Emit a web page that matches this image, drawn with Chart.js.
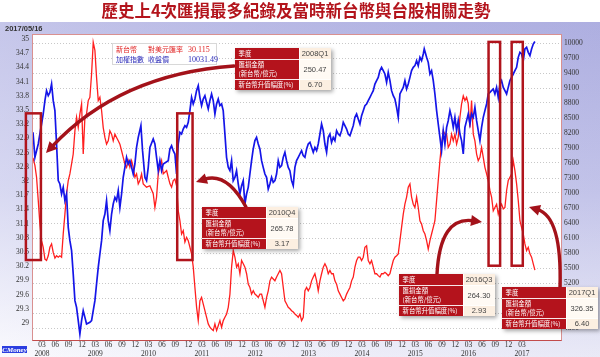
<!DOCTYPE html>
<html><head><meta charset="utf-8">
<script src="https://cdn.jsdelivr.net/npm/chart.js@4"></script>
<style>html,body{margin:0;padding:0;background:#fff}#wrap{width:600px;height:357px;position:relative}</style>
</head><body><div id="wrap"><canvas id="c"></canvas></div>
<script>
// Month offsets from 2008-01 (fractional)
const twdMonth = [0,0.43,0.8,1.18,1.55,1.93,2.3,2.68,3.05,3.43,3.8,4.18,4.55,4.93,5.3,5.68,6.05,6.43,6.8,7.18,7.55,7.93,8.3,8.68,9.05,9.43,9.8,10.18,10.55,10.93,11.3,11.68,12.05,12.43,12.8,13.18,13.55,13.93,14.3,14.68,15.05,15.43,15.8,16.18,16.55,16.93,17.3,17.68,18.05,18.43,18.8,19.18,19.55,19.93,20.3,20.68,21.05,21.43,21.8,22.18,22.55,22.93,23.3,23.68,24.05,24.43,24.8,25.55,26.3,27.05,27.43,27.8,28.18,28.55,28.93,29.3,
30.06,30.43,30.81,31.18,31.56,31.93,32.31,32.68,33.06,33.43,33.81,34.18,34.56,34.93,35.31,35.68,36.06,36.43,36.81,37.18,37.56,37.93,38.31,38.68,39.06,39.43,39.81,40.18,40.56,40.93,41.31,41.68,42.06,42.43,42.81,43.18,43.56,43.93,44.31,44.68,45.06,45.43,45.81,46.18,46.56,46.93,47.31,47.68,48.06,48.43,48.81,49.18,49.56,49.93,50.31,50.68,51.06,51.43,51.81,52.18,52.56,52.93,53.31,53.68,54.06,54.43,54.81,55.18,55.56,55.93,56.31,56.68,57.06,57.43,57.81,58.18,58.56,58.93,59.31,59.68,60.06,60.43,60.81,61.18,
61.56,61.93,62.31,62.68,63.06,63.43,63.81,64.18,64.56,64.93,65.31,65.68,66.06,66.43,66.81,67.18,67.56,67.93,68.31,68.68,69.06,69.43,69.81,70.18,70.56,70.93,71.31,71.68,72.06,72.43,72.81,73.18,73.56,73.93,74.31,74.68,75.06,75.43,75.81,76.18,76.56,76.93,77.31,77.68,78.06,78.43,78.81,79.18,79.56,79.93,80.31,80.68,81.06,81.43,81.81,82.18,82.56,82.93,83.31,83.68,84.06,84.43,84.81,85.18,85.56,85.93,86.31,86.68,87.06,87.43,87.81,88.18,88.56,88.93,89.31,
89.68,90.06,90.43,90.81,91.18,91.56,91.93,92.31,92.68,93.06,93.43,93.81,94.18,94.56,94.93,95.31,95.68,96.06,96.43,96.81,97.18,97.56,97.93,98.31,98.68,99.06,99.43,99.81,100.18,100.56,100.93,101.31,101.68,102.06,102.43,102.81,103.18,103.56,103.93,104.31,104.68,105.06,105.43,105.81,106.18,106.56,106.93,107.31,107.68,108.06,108.43,108.81,109.18,109.56,109.93,110.31,110.68,111.06,111.43,111.81,112.18,112.56,112.93];
const twdRate = [32.49,32.33,32.08,31.59,31.09,30.74,30.60,30.35,30.32,30.42,30.60,30.67,30.49,30.37,30.42,30.39,30.42,30.39,30.88,31.30,31.73,32.01,32.15,32.36,32.57,33.06,33.35,33.13,33.42,33.63,32.57,33.35,33.42,33.70,33.77,34.26,34.93,34.76,34.19,33.70,33.77,33.49,33.13,32.92,32.78,32.85,33.06,32.99,32.85,32.99,32.92,32.85,32.78,32.64,32.50,32.36,32.29,32.43,32.29,32.43,32.29,32.08,32.15,31.94,32.01,32.15,31.94,31.87,31.90,31.73,31.44,31.66,32.15,32.29,32.43,32.15,
32.22,32.08,31.94,31.87,32.01,32.04,31.90,31.37,31.16,30.88,30.95,30.71,30.81,30.74,30.60,30.46,30.18,29.75,29.33,29.05,29.47,29.54,29.40,29.26,29.12,28.98,28.91,28.87,28.84,28.98,28.84,28.94,29.05,28.91,29.05,29.12,29.19,29.33,29.61,30.18,30.53,30.39,30.18,30.25,30.04,30.32,30.25,30.18,30.04,29.82,29.75,29.61,29.68,29.61,29.58,29.54,29.61,29.61,29.47,29.33,29.54,29.68,29.89,29.97,29.93,29.89,29.97,30.04,30.11,30.04,29.75,29.47,29.40,29.33,29.30,29.26,29.23,29.19,29.16,29.12,29.19,29.05,29.12,29.68,
29.75,29.68,29.75,29.89,29.97,30.04,29.89,29.68,29.89,30.04,30.18,30.25,30.18,30.04,30.11,30.04,30.04,29.89,29.82,29.68,29.61,29.54,29.47,29.51,29.61,29.68,29.75,29.89,29.97,30.18,30.32,30.39,30.39,30.32,30.39,30.60,30.63,30.32,30.25,30.32,30.18,30.04,30.04,30.00,29.97,30.04,30.04,30.07,30.04,30.00,30.04,30.18,30.32,30.39,30.42,30.46,30.74,31.02,31.30,31.51,31.66,31.87,31.94,31.66,31.51,31.44,31.66,31.44,31.16,31.09,30.95,30.88,30.74,30.56,30.74,
30.88,31.02,31.16,31.59,32.01,32.43,32.78,33.06,32.99,32.99,32.71,32.78,32.99,32.85,32.99,32.78,32.92,33.35,33.63,33.80,33.70,33.77,33.63,33.13,33.70,32.99,32.85,32.57,32.43,32.50,32.71,32.50,32.29,32.15,32.01,31.80,31.66,31.37,31.44,31.51,31.30,31.44,31.51,31.41,31.44,31.80,32.01,32.08,32.15,32.43,32.22,31.94,31.59,31.16,31.02,30.88,30.67,30.53,30.60,30.46,30.39,30.25,30.115];

const taiexMonth = [0,0.43,1.18,1.55,1.93,2.3,2.68,3.05,3.43,3.8,4.18,4.55,4.93,5.3,5.68,6.05,6.43,6.8,7.18,7.55,7.93,8.3,8.68,9.05,9.43,9.8,10.18,10.55,10.93,11.3,11.68,12.05,12.8,13.18,13.55,13.93,14.3,14.68,15.05,15.43,15.8,16.18,16.55,16.93,17.3,17.68,18.05,18.43,18.8,19.18,19.55,19.93,20.3,20.68,21.05,21.43,21.8,22.18,22.55,22.93,23.3,23.68,24.28,24.65,25.18,25.55,25.93,26.3,27.05,27.43,27.8,28.18,28.55,28.93,29.3,
30.43,30.8,31.18,31.55,31.93,32.3,32.68,33.05,33.43,33.8,34.18,34.55,34.93,35.3,35.68,36.05,36.43,36.8,37.18,37.55,37.93,38.3,38.68,39.05,39.43,39.8,40.18,40.55,40.93,41.3,41.68,42.05,42.43,42.8,43.18,43.55,43.93,44.3,44.68,45.05,45.43,45.8,46.18,46.55,46.93,47.3,47.68,48.05,48.43,48.8,49.18,49.55,49.93,50.3,50.68,51.05,51.43,51.8,52.18,52.55,52.93,53.3,53.68,54.05,54.43,54.8,55.18,55.55,55.93,56.3,56.68,57.05,57.43,57.8,58.18,58.55,58.93,59.3,59.68,60.05,60.43,60.8,61.18,
61.56,61.93,62.31,62.68,63.06,63.43,63.81,64.18,64.56,64.93,65.31,65.68,66.06,66.43,66.81,67.18,67.56,67.93,68.31,68.68,69.06,69.43,69.81,70.18,70.56,70.93,71.31,71.68,72.06,72.43,72.81,73.18,73.56,73.93,74.31,74.68,75.06,75.43,75.81,76.18,76.56,76.93,77.31,77.68,78.06,78.43,78.81,79.18,79.56,79.93,80.31,80.68,81.06,81.43,81.81,82.18,82.56,82.93,83.31,83.68,84.06,84.43,84.81,85.18,85.56,85.93,86.31,86.68,87.06,87.43,87.81,88.03,88.56,88.93,89.31,
89.68,90.06,90.43,90.81,91.18,91.56,91.93,92.31,92.68,93.06,93.43,93.81,94.18,94.56,94.93,95.31,95.68,96.06,96.43,96.81,97.18,97.56,97.93,98.31,98.68,99.06,99.43,99.81,100.18,100.56,100.93,101.31,101.68,102.06,102.43,102.81,103.18,103.56,103.93,104.31,104.68,105.06,105.43,105.81,106.18,106.56,106.93,107.31,107.68,108.06,108.43,108.81,109.18,109.56,109.93,110.31,110.68,111.06,111.43,111.81,112.18,112.56,112.93];
const taiexClose = [8213,7713,7980,8180,8380,8580,8847,9047,8947,9013,9180,8847,8647,7980,7247,7180,6980,7113,6847,6980,6313,6047,5847,5380,4847,4713,4447,4180,4447,4647,4513,4380,4413,4447,4647,4847,5180,5513,5780,6047,6447,6580,6847,6447,6247,6580,6780,6913,6847,7047,6713,6980,7313,7513,7713,7580,7647,7513,7380,7580,7913,8113,8347,7847,7313,7247,7513,7913,8080,7980,7713,7447,7647,7447,7580,
7647,7880,7947,7847,7780,7380,7980,8213,8180,8280,8347,8313,8413,8647,8913,8780,8880,9047,9147,8913,8747,8880,8947,8813,8680,8847,8980,8847,8580,8780,8880,8747,8780,8647,8180,7713,7513,7447,7647,7247,7313,7447,7180,6980,7147,7247,6780,6980,7113,7380,7647,7880,8047,8113,7980,7880,7647,7513,7380,7313,7080,7180,7313,7213,7247,7380,7647,7513,7547,7713,7813,7647,7513,7447,7247,7147,7513,7647,7713,7780,7847,7747,7713,
7880,7980,8013,7913,7813,7913,7847,7980,8180,8380,8247,7980,7813,8113,8180,8013,8113,8047,8247,8180,8147,8247,8413,8347,8280,8180,8147,8247,8347,8513,8580,8480,8380,8547,8647,8747,8780,8847,8913,8980,9047,9180,9247,9313,9447,9513,9447,9380,9213,9413,9247,9047,8947,8880,8713,8513,8980,9047,9113,9247,9080,9180,9313,9447,9513,9547,9647,9547,9713,9647,9780,9880,9713,9613,9380,
9447,9247,8980,8647,8380,8113,7847,8247,7980,8313,8447,8647,8513,8313,8513,8247,8447,8180,8047,7780,8313,8447,8580,8380,8580,8513,8713,8447,8247,8047,8313,8513,8647,8780,8980,9013,9047,9080,8980,9113,8913,9180,9247,9113,9047,8980,9113,9247,9313,9380,9447,9513,9713,9813,9780,9647,9880,9913,9813,9747,9880,9980,10031.49];

const leftTicks = [29,29.3,29.6,29.9,30.2,30.5,30.8,31.1,31.4,31.7,32,32.3,32.6,32.9,33.2,33.5,33.8,34.1,34.4,34.7,35];
const rightTicks = [4300,4600,4900,5200,5500,5800,6100,6400,6700,7000,7300,7600,7900,8200,8500,8800,9100,9400,9700,10000];
const quarterLabels = ['03','06','09','12'];
const years = [2008,2009,2010,2011,2012,2013,2014,2015,2016,2017];

// Highlighted quarters (month offsets, left-axis values)
const hlStart = [-1.6, 32.45, 102.5, 107.7];
const hlEnd = [1.78, 35.9, 105.1, 110.2];
const hlTop = [33.43, 33.43, 34.94, 34.94];
const hlBottom = [30.33, 30.33, 30.21, 30.21];

// Callout table contents
const quarters = ['2008Q1','2010Q4','2016Q3','2017Q1'];
const fxLoss = ['250.47','265.78','264.30','326.35'];
const twdRise = ['6.70','3.17','2.93','6.40'];

const xTicks = [];
years.forEach((y, yi) => quarterLabels.forEach((q, qi) => {
  const m = yi * 12 + qi * 3 + 2;
  if (m <= 110) xTicks.push(m);
}));

const CJK = '"Noto Sans CJK TC", "Noto Sans CJK SC", sans-serif';
const SERIF = '"Liberation Serif", "DejaVu Serif", serif';
const SANS = '"Liberation Sans", Arial, sans-serif';

// layout of annotations (pixels)
const calloutPos = [[235,48],[202,207],[399,274],[502,287]];
const arrows = [
  [[234,66],[120,74],[46,153]],
  [[246,207],[227,172],[196,182]],
  [[437,274],[440,216],[482,222]],
  [[560,287],[562,217],[529,207]]
];

function drawArrow(ctx, a) {
  const [s, c, t] = a;
  const dx = t[0]-c[0], dy = t[1]-c[1], L = Math.hypot(dx,dy);
  const ux = dx/L, uy = dy/L;
  const hl = 11, hw = 5.5;
  const bx = t[0]-ux*hl, by = t[1]-uy*hl;
  ctx.save();
  ctx.strokeStyle = '#a3121a'; ctx.fillStyle = '#a3121a';
  ctx.lineWidth = 3.4; ctx.lineCap = 'round';
  ctx.beginPath(); ctx.moveTo(s[0], s[1]); ctx.quadraticCurveTo(c[0], c[1], bx+ux*2, by+uy*2); ctx.stroke();
  ctx.beginPath(); ctx.moveTo(t[0], t[1]);
  ctx.lineTo(bx - uy*hw, by + ux*hw); ctx.lineTo(bx + uy*hw, by - ux*hw); ctx.closePath(); ctx.fill();
  ctx.restore();
}

function drawCallout(ctx, x, y, i) {
  const w = 96, h = 42, lw = 64, r1 = 11, r2 = 20;
  ctx.save();
  ctx.shadowColor = 'rgba(0,0,0,0.35)'; ctx.shadowBlur = 4; ctx.shadowOffsetX = 2; ctx.shadowOffsetY = 2;
  ctx.fillStyle = '#fff'; ctx.fillRect(x, y, w, h);
  ctx.restore();
  ctx.save();
  ctx.fillStyle = '#b4131c'; ctx.fillRect(x, y, lw, h);
  ctx.fillStyle = '#fcefe1'; ctx.fillRect(x+lw, y, w-lw, r1);
  ctx.fillStyle = '#fffaf4'; ctx.fillRect(x+lw, y+r1, w-lw, r2);
  ctx.fillStyle = '#fcefe1'; ctx.fillRect(x+lw, y+r1+r2, w-lw, h-r1-r2);
  ctx.strokeStyle = 'rgba(255,255,255,0.9)'; ctx.lineWidth = 1;
  ctx.beginPath();
  ctx.moveTo(x, y+r1+0.5); ctx.lineTo(x+w, y+r1+0.5);
  ctx.moveTo(x, y+r1+r2+0.5); ctx.lineTo(x+w, y+r1+r2+0.5);
  ctx.moveTo(x+lw+0.5, y); ctx.lineTo(x+lw+0.5, y+h);
  ctx.stroke();
  ctx.fillStyle = '#fff'; ctx.font = '6.4px ' + CJK; ctx.textBaseline = 'middle'; ctx.textAlign = 'left';
  ctx.fillText('季度', x+3.5, y+r1/2+0.5);
  ctx.fillText('匯損金額', x+3.5, y+r1+6);
  ctx.fillText('(新台幣/億元)', x+3.5, y+r1+14.5);
  ctx.fillText('新台幣升值幅度(%)', x+3.5, y+r1+r2+(h-r1-r2)/2+0.5);
  ctx.fillStyle = '#444'; ctx.font = '7.5px ' + SANS; ctx.textAlign = 'center';
  const cx = x + lw + (w-lw)/2;
  ctx.fillText(quarters[i], cx, y+r1/2+0.5);
  ctx.fillText(fxLoss[i], cx, y+r1+r2/2+0.5);
  ctx.fillText(twdRise[i], cx, y+r1+r2+(h-r1-r2)/2+0.5);
  ctx.restore();
}

const decor = {
  id: 'decor',
  beforeDraw(chart) {
    const {ctx, chartArea: a} = chart;
    ctx.save();
    ctx.fillStyle = '#fff'; ctx.fillRect(0, 0, 600, 357);
    const g = ctx.createLinearGradient(0, 22, 0, 357);
    g.addColorStop(0, '#b2b3e3'); g.addColorStop(0.5, '#cacbed'); g.addColorStop(1, '#f8f8fd');
    ctx.fillStyle = g; ctx.fillRect(0, 22, 600, 335);
    const g2 = ctx.createLinearGradient(0, 0, 600, 0);
    g2.addColorStop(0, 'rgba(255,255,255,0.25)'); g2.addColorStop(1, 'rgba(150,150,210,0.15)');
    ctx.fillStyle = g2; ctx.fillRect(0, 22, 600, 335);
    ctx.fillStyle = '#fff'; ctx.fillRect(a.left, a.top, a.right-a.left, a.bottom-a.top);
    ctx.fillStyle = '#b3141c'; ctx.font = 'bold 16.5px ' + CJK;
    ctx.textAlign = 'center'; ctx.textBaseline = 'middle';
    ctx.fillText('歷史上4次匯損最多紀錄及當時新台幣與台股相關走勢', 296, 11);
    ctx.fillStyle = '#333'; ctx.font = 'bold 7.5px ' + SANS; ctx.textAlign = 'left';
    ctx.fillText('2017/05/16', 5, 29);
    ctx.restore();
  },
  afterDatasetsDraw(chart) {
    const {ctx, chartArea: a, scales} = chart;
    const xs = scales.x, yl = scales.yL;
    ctx.save();
    ctx.strokeStyle = '#d99090'; ctx.lineWidth = 1;
    ctx.strokeRect(a.left-0.5, a.top+0.5, a.right-a.left+1, a.bottom-a.top);
    ctx.strokeStyle = '#c24b4b';
    ctx.beginPath(); ctx.moveTo(a.left-0.5, a.bottom+0.5); ctx.lineTo(a.right+0.5, a.bottom+0.5); ctx.stroke();
    ctx.strokeStyle = '#b0141c'; ctx.lineWidth = 2.5;
    for (let i = 0; i < hlStart.length; i++) {
      const x0 = xs.getPixelForValue(hlStart[i]), x1 = xs.getPixelForValue(hlEnd[i]);
      const y0 = yl.getPixelForValue(hlTop[i]), y1 = yl.getPixelForValue(hlBottom[i]);
      ctx.strokeRect(x0, y0, x1-x0, y1-y0);
    }
    ctx.restore();
  },
  afterDraw(chart) {
    const {ctx} = chart;
    ctx.save();
    // legend box
    ctx.fillStyle = '#fff'; ctx.strokeStyle = '#d8d8d8'; ctx.lineWidth = 1;
    ctx.fillRect(112, 43, 105, 22); ctx.strokeRect(112.5, 43.5, 104, 21);
    ctx.textBaseline = 'middle'; ctx.textAlign = 'left';
    ctx.fillStyle = '#e02424'; ctx.font = '7px ' + CJK;
    ctx.fillText('新台幣', 116, 49.5); ctx.fillText('對美元匯率', 148, 49.5);
    ctx.font = '8px ' + SERIF; ctx.fillText(String(twdRate[twdRate.length-1]), 188, 49.5);
    ctx.fillStyle = '#2a2ab8'; ctx.font = '7px ' + CJK;
    ctx.fillText('加權指數', 116, 59.5); ctx.fillText('收盤價', 148, 59.5);
    ctx.font = '8px ' + SERIF; ctx.fillText(taiexClose[taiexClose.length-1].toFixed(2), 188, 59.5);
    // CMoney mark
    ctx.fillStyle = '#2b3ee0'; ctx.fillRect(2, 346, 25, 7);
    ctx.fillStyle = '#fff'; ctx.font = 'italic bold 7px ' + SERIF; ctx.textAlign = 'center';
    ctx.fillText('CMoney', 14.5, 349.8);
    ctx.restore();
    arrows.forEach(a => drawArrow(ctx, a));
    calloutPos.forEach((p, i) => drawCallout(ctx, p[0], p[1], i));
  }
};

const tickFont = {family: SERIF, size: 7.5};
new Chart(document.getElementById('c'), {
  type: 'line',
  data: {
    datasets: [
      {label: '加權指數', data: taiexMonth.map((m, i) => ({x: m, y: taiexClose[i]})), yAxisID: 'yR',
       borderColor: '#1515e8', borderWidth: 1.7, pointRadius: 0, tension: 0, fill: false},
      {label: '新台幣', data: twdMonth.map((m, i) => ({x: m, y: twdRate[i]})), yAxisID: 'yL',
       borderColor: '#ff1f1f', borderWidth: 1.3, pointRadius: 0, tension: 0, fill: false}
    ]
  },
  options: {
    responsive: true, maintainAspectRatio: false, animation: false,
    layout: {padding: {top: 34, left: 0, right: 0, bottom: 0}},
    plugins: {legend: {display: false}, tooltip: {enabled: false}, title: {display: false}},
    scales: {
      x: {
        type: 'linear', min: 0, max: 118.8,
        afterBuildTicks: s => { s.ticks = xTicks.map(v => ({value: v})); },
        afterFit: s => { s.height = 17; },
        grid: {display: false, drawTicks: false}, border: {display: false},
        ticks: {autoSkip: false, maxRotation: 0, padding: 1, color: '#333',
          font: {family: SERIF, size: 7.5, lineHeight: 1.15},
          callback: v => {
            const mi = ((v % 12) + 12) % 12;
            const lab = quarterLabels[(mi - 2) / 3];
            return mi === 2 ? [lab, String(years[Math.floor(v / 12)])] : lab;
          }}
      },
      yL: {
        type: 'linear', position: 'left', min: 28.64, max: 35.107,
        afterBuildTicks: s => { s.ticks = leftTicks.map(v => ({value: v})); },
        afterFit: s => { s.width = 33; },
        grid: {display: false, drawTicks: false}, border: {display: false},
        ticks: {padding: 4, color: '#333', font: tickFont, callback: v => String(v)}
      },
      yR: {
        type: 'linear', position: 'right', min: 4060, max: 10180,
        afterBuildTicks: s => { s.ticks = rightTicks.map(v => ({value: v})); },
        afterFit: s => { s.width = 39; },
        grid: {display: true, drawTicks: false, color: '#c8c8c8', lineWidth: 1},
        border: {display: false, dash: [1, 2]},
        ticks: {padding: 3, color: '#333', font: tickFont, callback: v => String(v)}
      }
    }
  },
  plugins: [decor]
});
</script></body></html>
